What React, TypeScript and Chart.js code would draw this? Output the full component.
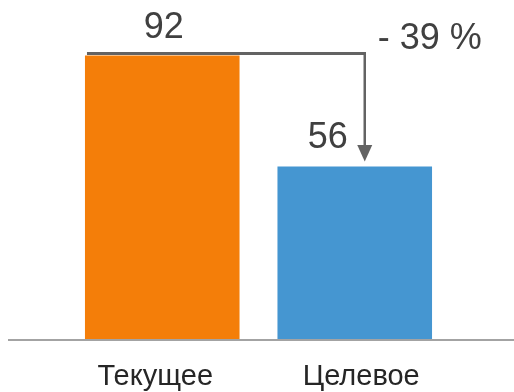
import React, { useEffect, useRef } from "react";
import { Chart, registerables } from "chart.js";

Chart.register(...registerables);

// Chart values
const categories = ["Текущее", "Целевое"];
const values = [92, 56];
const barColors = ["#F47E09", "#4596D1"];
const yMax = 110;

const FONT = "'Liberation Sans', Arial, sans-serif";

// Draws the baseline, value labels, the drop bracket with arrow and the category names
const annotatePlugin = {
  id: "annotate",
  afterDatasetsDraw(chart: any) {
    const { ctx, scales } = chart;
    const y = scales.y;
    const meta = chart.getDatasetMeta(0);
    const [barA, barB] = meta.data as any[];
    const topA = y.getPixelForValue(values[0]);
    const topB = y.getPixelForValue(values[1]);
    const base = y.getPixelForValue(0);

    ctx.save();

    // baseline across the full width
    ctx.strokeStyle = "#A3A3A3";
    ctx.lineWidth = 2;
    ctx.beginPath();
    ctx.moveTo(8, base + 1);
    ctx.lineTo(chart.width, base + 1);
    ctx.stroke();

    // bracket from the first bar over to the second one
    const lineX = barB.x + 10;
    const lineY = topA - 2;
    ctx.strokeStyle = "#636363";
    ctx.lineWidth = 3;
    ctx.beginPath();
    ctx.moveTo(barA.x - barA.width / 2 + 2, lineY);
    ctx.lineTo(lineX + 1.25, lineY);
    ctx.stroke();
    ctx.lineWidth = 2.5;
    ctx.beginPath();
    ctx.moveTo(lineX, lineY - 1.5);
    ctx.lineTo(lineX, topB - 20);
    ctx.stroke();
    ctx.fillStyle = "#636363";
    ctx.beginPath();
    ctx.moveTo(lineX - 7.5, topB - 21.5);
    ctx.lineTo(lineX + 7.5, topB - 21.5);
    ctx.lineTo(lineX, topB - 5);
    ctx.closePath();
    ctx.fill();

    // value labels
    ctx.fillStyle = "#404040";
    ctx.font = `36px ${FONT}`;
    ctx.textBaseline = "alphabetic";
    ctx.textAlign = "center";
    ctx.fillText(String(values[0]), barA.x + 1.5, topA - 17);
    ctx.fillText(String(values[1]), barB.x - 27, topB - 18);

    // percentage change
    const pct = Math.round(((values[1] - values[0]) / values[0]) * 100);
    ctx.textAlign = "left";
    ctx.fillText(`- ${Math.abs(pct)} %`, lineX + 13, topA - 6);

    // category names under the baseline
    ctx.fillStyle = "#262626";
    ctx.font = `29px ${FONT}`;
    ctx.textAlign = "center";
    ctx.fillText(categories[0], barA.x - 7, base + 45.5);
    ctx.fillText(categories[1], barB.x + 6.5, base + 46);

    ctx.restore();
  },
};

export default function App() {
  const canvasRef = useRef<HTMLCanvasElement | null>(null);

  useEffect(() => {
    const canvas = canvasRef.current;
    if (!canvas) return;
    const chart = new Chart(canvas, {
      type: "bar",
      data: {
        labels: categories,
        datasets: [
          {
            data: values,
            backgroundColor: barColors,
            borderWidth: 0,
            categoryPercentage: 1,
            barPercentage: 0.803,
          },
        ],
      },
      options: {
        responsive: false,
        animation: false,
        layout: { padding: { left: 66, right: 63, top: 0, bottom: 53 } },
        plugins: {
          legend: { display: false },
          tooltip: { enabled: false },
        },
        scales: {
          x: {
            display: false,
            grid: { display: false },
          },
          y: {
            display: false,
            min: 0,
            max: yMax,
            grid: { display: false },
          },
        },
      },
      plugins: [annotatePlugin],
    });
    return () => chart.destroy();
  }, []);

  return (
    <div
      style={{
        position: "absolute",
        left: 0,
        top: 0,
        width: 514,
        height: 392,
        background: "#ffffff",
      }}
    >
      <canvas ref={canvasRef} width={514} height={392} />
    </div>
  );
}
